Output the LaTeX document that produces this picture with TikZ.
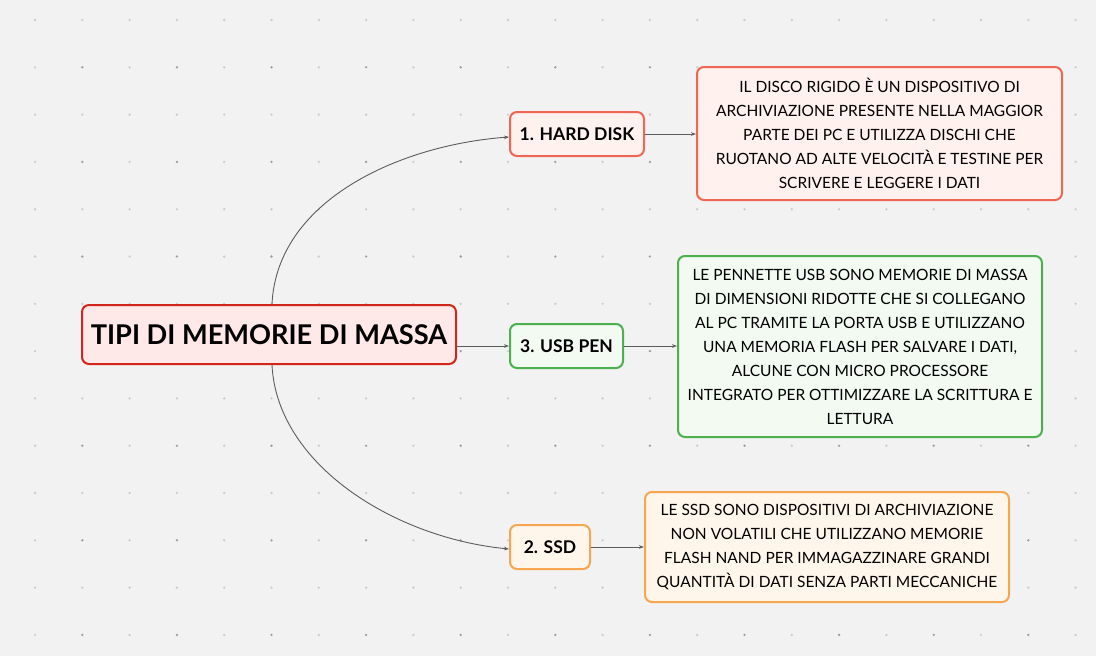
\documentclass[tikz,border=0pt]{standalone}
\usepackage{fontspec}
\setmainfont{Lato}
\usepackage{pgf,tikz}
\usetikzlibrary{arrows,arrows.meta}
\definecolor{ffbgff}{rgb}{0.949,0.949,0.949}
\definecolor{ddlight}{rgb}{0.80,0.80,0.80}
\definecolor{dddark}{rgb}{0.62,0.62,0.62}
\definecolor{ccline}{rgb}{0.36,0.36,0.36}
\definecolor{rrmain}{rgb}{0.82,0.15,0.11}
\definecolor{rrmainf}{rgb}{1.,0.91,0.91}
\definecolor{hhdisk}{rgb}{0.94,0.40,0.33}
\definecolor{hhdiskf}{rgb}{1.,0.945,0.93}
\definecolor{ggusb}{rgb}{0.30,0.69,0.31}
\definecolor{ggusbf}{rgb}{0.95,0.98,0.95}
\definecolor{oossd}{rgb}{0.97,0.65,0.31}
\definecolor{oossdf}{rgb}{1.,0.965,0.92}
\tikzset{
  box/.style={draw,rounded corners=7pt,line width=2pt,inner sep=0pt,align=center,text=black},
  topic/.style={box,font=\fontsize{17.5}{20}\selectfont\bfseries,minimum height=44pt},
  note/.style={box,font=\fontsize{15.5}{24}\selectfont},
  link/.style={->,color=ccline,line width=0.9pt}
}
\begin{document}
\begin{tikzpicture}[line cap=round,line join=round,>={Stealth[length=5pt,width=3.6pt]},x=1pt,y=-1pt]
	\useasboundingbox (0,0) rectangle (1096,656);
	\fill[ffbgff] (0,0) rectangle (1096,656);
	\foreach \i in {0,...,22}
	\foreach \j in {0,...,13}
	{
	\pgfmathsetmacro{\dotcol}{(mod(\i,2)==1 && mod(\j,2)==1) ? "dddark" : "ddlight"}
	\fill[\dotcol] (35+47.3*\i,20+47.3*\j) circle (1.3pt);
	}
	% central topic
	\node[box,draw=rrmain,fill=rrmainf,minimum width=374pt,minimum height=59pt,font=\fontsize{27.2}{32}\selectfont\bfseries] (main) at (269,334.5) {TIPI DI MEMORIE DI MASSA};
	% branches
	\node[topic,draw=hhdisk,fill=hhdiskf,minimum width=134pt] (hd) at (577,134) {1. HARD DISK};
	\node[topic,draw=ggusb,fill=ggusbf,minimum width=113pt] (usb) at (566.5,346) {3. USB PEN};
	\node[topic,draw=oossd,fill=oossdf,minimum width=80pt] (ssd) at (550,547) {2. SSD};
	% descriptions
	\node[note,draw=hhdisk,fill=hhdiskf,minimum width=365pt,minimum height=133pt] (hdnote) at (879.5,133.5) {IL DISCO RIGIDO È UN DISPOSITIVO DI\\ARCHIVIAZIONE PRESENTE NELLA MAGGIOR\\PARTE DEI PC E UTILIZZA DISCHI CHE\\RUOTANO AD ALTE VELOCITÀ E TESTINE PER\\SCRIVERE E LEGGERE I DATI};
	\node[note,draw=ggusb,fill=ggusbf,minimum width=364pt,minimum height=181pt] (usbnote) at (860,346.5) {LE PENNETTE USB SONO MEMORIE DI MASSA\\DI DIMENSIONI RIDOTTE CHE SI COLLEGANO\\AL PC TRAMITE LA PORTA USB E UTILIZZANO\\UNA MEMORIA FLASH PER SALVARE I DATI,\\ALCUNE CON MICRO PROCESSORE\\INTEGRATO PER OTTIMIZZARE LA SCRITTURA E\\LETTURA};
	\node[note,draw=oossd,fill=oossdf,minimum width=364pt,minimum height=110pt] (ssdnote) at (827,547) {LE SSD SONO DISPOSITIVI DI ARCHIVIAZIONE\\NON VOLATILI CHE UTILIZZANO MEMORIE\\FLASH NAND PER IMMAGAZZINARE GRANDI\\QUANTITÀ DI DATI SENZA PARTI MECCANICHE};
	% connectors
	\draw[link] ([xshift=3pt]main.north) .. controls (277,200) and (400,145) .. ([yshift=-3pt]hd.west);
	\draw[link] (usb.west -| main.east) -- (usb.west);
	\draw[link] ([xshift=3pt]main.south) .. controls (277,465) and (395,538) .. ([yshift=-2pt]ssd.west);
	\draw[link] (hd.east) -- (hdnote.west |- hd.east);
	\draw[link] (usb.east) -- (usbnote.west |- usb.east);
	\draw[link] (ssd.east) -- (ssdnote.west |- ssd.east);
\end{tikzpicture}
\end{document}
